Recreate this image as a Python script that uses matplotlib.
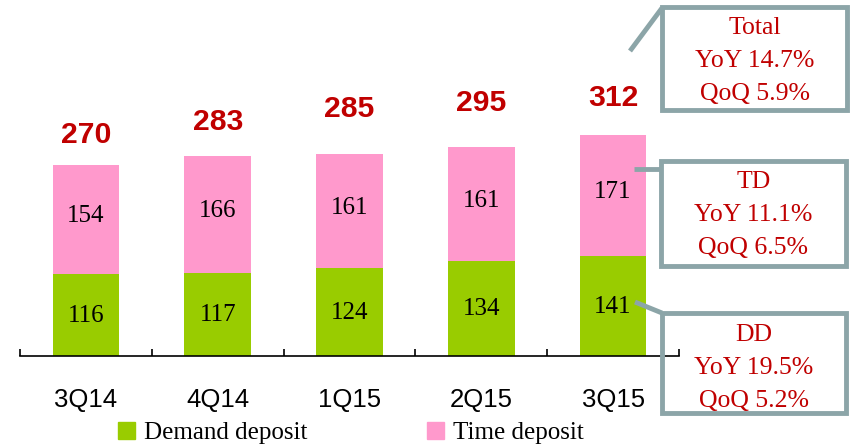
import matplotlib.pyplot as plt
from matplotlib.patches import Rectangle, Patch
from matplotlib.lines import Line2D

# quarterly deposits
quarters = ['3Q14', '4Q14', '1Q15', '2Q15', '3Q15']
demand = [116, 117, 124, 134, 141]
time_dep = [154, 166, 161, 161, 171]
totals = [270, 283, 285, 295, 312]

# callout boxes text
box_texts = [
    'Total\nYoY 14.7%\nQoQ 5.9%',
    'TD\nYoY 11.1%\nQoQ 6.5%',
    'DD\nYoY 19.5%\nQoQ 5.2%',
]

GREEN = '#99CC00'
PINK = '#FF99CC'
RED = '#C00000'
BOXC = '#8CA5A8'

W, H = 850, 447
fig = plt.figure(figsize=(W / 100, H / 100), dpi=100)


def px(x, y):
    # figure pixel (from top-left) -> figure fraction
    return x / W, 1 - y / H


ax = fig.add_axes([20 / W, (H - 356) / H, 659 / W, 283 / H])
x = range(len(quarters))
ax.bar(x, demand, width=0.505, color=GREEN, zorder=2)
ax.bar(x, time_dep, bottom=demand, width=0.505, color=PINK, zorder=2)
ax.set_xlim(-0.5, len(quarters) - 0.5)
ax.set_ylim(0, 400)

for i in x:
    ax.text(i, demand[i] / 2 - 1, str(demand[i]), ha='center', va='center',
            fontsize=18, family='Liberation Serif', color='black')
    ax.text(i, demand[i] + time_dep[i] / 2 + 5, str(time_dep[i]), ha='center',
            va='center', fontsize=18, family='Liberation Serif', color='black')

# total labels, offsets in points above the bar
lift = [21.5, 24, 33, 32, 26.5]
for i in x:
    ax.annotate(str(totals[i]), (i, totals[i]), xytext=(0, lift[i]),
                textcoords='offset points', ha='center', va='center',
                fontsize=21.7, fontweight='bold', family='Liberation Sans',
                color=RED)

for s in ['top', 'right', 'left']:
    ax.spines[s].set_visible(False)
ax.spines['bottom'].set_linewidth(1.2)
ax.set_yticks([])
ax.set_xticks(list(x))
ax.set_xticklabels(quarters, fontsize=18.5, family='Liberation Sans')
ax.tick_params(axis='x', which='major', length=0, pad=23)
ax.set_xticks([i - 0.5 for i in range(len(quarters) + 1)], minor=True)
ax.tick_params(axis='x', which='minor', direction='in', length=5, width=1.2)

# callout boxes (pixel layout)
boxes = [(662, 7, 185, 103), (661, 161, 185, 105), (662, 313, 184, 100)]
starts = [(630, 51), (634, 169), (635, 302)]
ends = [(662, 8), (661, 169), (662, 313)]
text_y = [61, 215, 368]
for (bx, by, bw, bh), txt, s, e, cy in zip(boxes, box_texts, starts, ends, text_y):
    x0, y0 = px(bx, by + bh)
    fig.patches.append(Rectangle((x0, y0), bw / W, bh / H, transform=fig.transFigure,
                                 fill=False, edgecolor=BOXC, linewidth=3.5,
                                 zorder=5))
    tx, ty = px(bx + bw / 2, cy)
    fig.text(tx, ty, txt, ha='center', va='center', fontsize=18.5,
             family='Liberation Serif', color=RED, linespacing=1.63)
    (sx, sy), (ex, ey) = px(*s), px(*e)
    fig.lines.append(Line2D([sx, ex], [sy, ey], transform=fig.transFigure,
                            color=BOXC, linewidth=3.5, solid_capstyle='butt'))

handles = [Patch(color=GREEN, label='Demand deposit'),
           Patch(color=PINK, label='Time deposit')]
fig.legend(handles=handles, loc='center', bbox_to_anchor=(px(351, 433)),
           ncol=2, frameon=False, handlelength=0.68, handleheight=0.68,
           handletextpad=0.35, columnspacing=4.8,
           prop={'family': 'Liberation Serif', 'size': 18})

fig.savefig('out.png', dpi=100)
